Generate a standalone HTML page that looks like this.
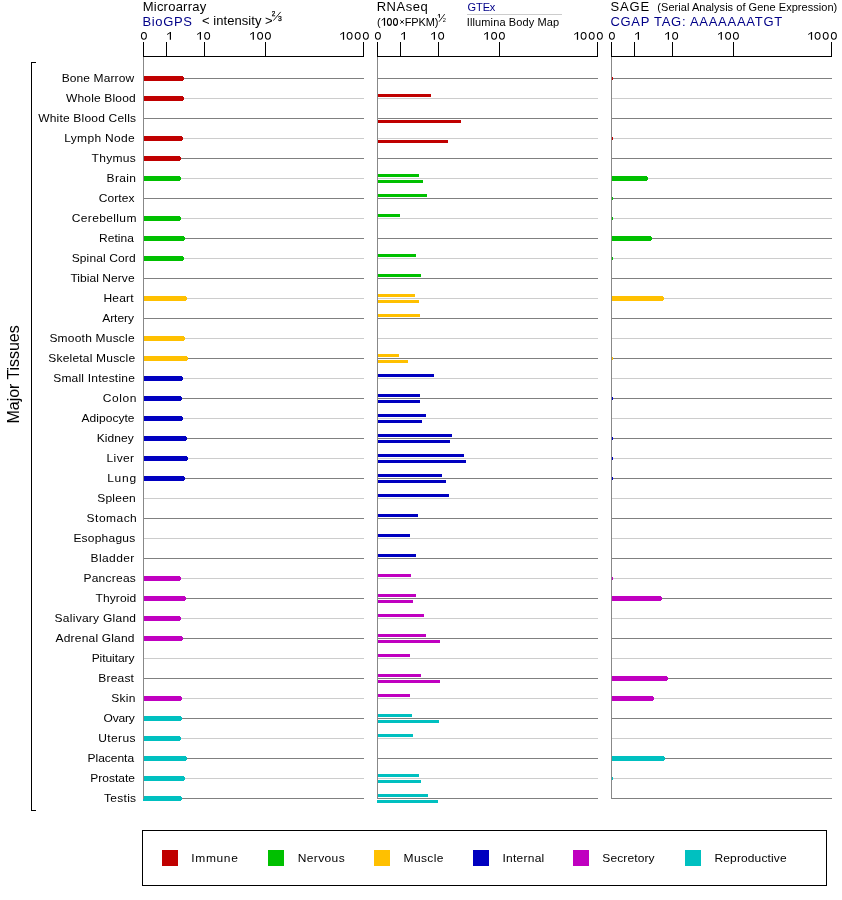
<!DOCTYPE html><html><head><meta charset="utf-8"><style>html,body{margin:0;padding:0;background:#fff;width:842px;height:900px;overflow:hidden}svg{display:block;will-change:transform}text{font-family:"Liberation Sans",sans-serif}</style></head><body><svg width="842" height="900" viewBox="0 0 842 900"><rect width="842" height="900" fill="#fff"/><rect x="143" y="78" width="221" height="1" fill="#808080"/><rect x="143" y="98" width="221" height="1" fill="#cccccc"/><rect x="143" y="118" width="221" height="1" fill="#808080"/><rect x="143" y="138" width="221" height="1" fill="#cccccc"/><rect x="143" y="158" width="221" height="1" fill="#808080"/><rect x="143" y="178" width="221" height="1" fill="#cccccc"/><rect x="143" y="198" width="221" height="1" fill="#808080"/><rect x="143" y="218" width="221" height="1" fill="#cccccc"/><rect x="143" y="238" width="221" height="1" fill="#808080"/><rect x="143" y="258" width="221" height="1" fill="#cccccc"/><rect x="143" y="278" width="221" height="1" fill="#808080"/><rect x="143" y="298" width="221" height="1" fill="#cccccc"/><rect x="143" y="318" width="221" height="1" fill="#808080"/><rect x="143" y="338" width="221" height="1" fill="#cccccc"/><rect x="143" y="358" width="221" height="1" fill="#808080"/><rect x="143" y="378" width="221" height="1" fill="#cccccc"/><rect x="143" y="398" width="221" height="1" fill="#808080"/><rect x="143" y="418" width="221" height="1" fill="#cccccc"/><rect x="143" y="438" width="221" height="1" fill="#808080"/><rect x="143" y="458" width="221" height="1" fill="#cccccc"/><rect x="143" y="478" width="221" height="1" fill="#808080"/><rect x="143" y="498" width="221" height="1" fill="#cccccc"/><rect x="143" y="518" width="221" height="1" fill="#808080"/><rect x="143" y="538" width="221" height="1" fill="#cccccc"/><rect x="143" y="558" width="221" height="1" fill="#808080"/><rect x="143" y="578" width="221" height="1" fill="#cccccc"/><rect x="143" y="598" width="221" height="1" fill="#808080"/><rect x="143" y="618" width="221" height="1" fill="#cccccc"/><rect x="143" y="638" width="221" height="1" fill="#808080"/><rect x="143" y="658" width="221" height="1" fill="#cccccc"/><rect x="143" y="678" width="221" height="1" fill="#808080"/><rect x="143" y="698" width="221" height="1" fill="#cccccc"/><rect x="143" y="718" width="221" height="1" fill="#808080"/><rect x="143" y="738" width="221" height="1" fill="#cccccc"/><rect x="143" y="758" width="221" height="1" fill="#808080"/><rect x="143" y="778" width="221" height="1" fill="#cccccc"/><rect x="143" y="798" width="221" height="1" fill="#808080"/><rect x="377" y="78" width="221" height="1" fill="#808080"/><rect x="377" y="98" width="221" height="1" fill="#cccccc"/><rect x="377" y="118" width="221" height="1" fill="#808080"/><rect x="377" y="138" width="221" height="1" fill="#cccccc"/><rect x="377" y="158" width="221" height="1" fill="#808080"/><rect x="377" y="178" width="221" height="1" fill="#cccccc"/><rect x="377" y="198" width="221" height="1" fill="#808080"/><rect x="377" y="218" width="221" height="1" fill="#cccccc"/><rect x="377" y="238" width="221" height="1" fill="#808080"/><rect x="377" y="258" width="221" height="1" fill="#cccccc"/><rect x="377" y="278" width="221" height="1" fill="#808080"/><rect x="377" y="298" width="221" height="1" fill="#cccccc"/><rect x="377" y="318" width="221" height="1" fill="#808080"/><rect x="377" y="338" width="221" height="1" fill="#cccccc"/><rect x="377" y="358" width="221" height="1" fill="#808080"/><rect x="377" y="378" width="221" height="1" fill="#cccccc"/><rect x="377" y="398" width="221" height="1" fill="#808080"/><rect x="377" y="418" width="221" height="1" fill="#cccccc"/><rect x="377" y="438" width="221" height="1" fill="#808080"/><rect x="377" y="458" width="221" height="1" fill="#cccccc"/><rect x="377" y="478" width="221" height="1" fill="#808080"/><rect x="377" y="498" width="221" height="1" fill="#cccccc"/><rect x="377" y="518" width="221" height="1" fill="#808080"/><rect x="377" y="538" width="221" height="1" fill="#cccccc"/><rect x="377" y="558" width="221" height="1" fill="#808080"/><rect x="377" y="578" width="221" height="1" fill="#cccccc"/><rect x="377" y="598" width="221" height="1" fill="#808080"/><rect x="377" y="618" width="221" height="1" fill="#cccccc"/><rect x="377" y="638" width="221" height="1" fill="#808080"/><rect x="377" y="658" width="221" height="1" fill="#cccccc"/><rect x="377" y="678" width="221" height="1" fill="#808080"/><rect x="377" y="698" width="221" height="1" fill="#cccccc"/><rect x="377" y="718" width="221" height="1" fill="#808080"/><rect x="377" y="738" width="221" height="1" fill="#cccccc"/><rect x="377" y="758" width="221" height="1" fill="#808080"/><rect x="377" y="778" width="221" height="1" fill="#cccccc"/><rect x="377" y="798" width="221" height="1" fill="#808080"/><rect x="611" y="78" width="221" height="1" fill="#808080"/><rect x="611" y="98" width="221" height="1" fill="#cccccc"/><rect x="611" y="118" width="221" height="1" fill="#808080"/><rect x="611" y="138" width="221" height="1" fill="#cccccc"/><rect x="611" y="158" width="221" height="1" fill="#808080"/><rect x="611" y="178" width="221" height="1" fill="#cccccc"/><rect x="611" y="198" width="221" height="1" fill="#808080"/><rect x="611" y="218" width="221" height="1" fill="#cccccc"/><rect x="611" y="238" width="221" height="1" fill="#808080"/><rect x="611" y="258" width="221" height="1" fill="#cccccc"/><rect x="611" y="278" width="221" height="1" fill="#808080"/><rect x="611" y="298" width="221" height="1" fill="#cccccc"/><rect x="611" y="318" width="221" height="1" fill="#808080"/><rect x="611" y="338" width="221" height="1" fill="#cccccc"/><rect x="611" y="358" width="221" height="1" fill="#808080"/><rect x="611" y="378" width="221" height="1" fill="#cccccc"/><rect x="611" y="398" width="221" height="1" fill="#808080"/><rect x="611" y="418" width="221" height="1" fill="#cccccc"/><rect x="611" y="438" width="221" height="1" fill="#808080"/><rect x="611" y="458" width="221" height="1" fill="#cccccc"/><rect x="611" y="478" width="221" height="1" fill="#808080"/><rect x="611" y="498" width="221" height="1" fill="#cccccc"/><rect x="611" y="518" width="221" height="1" fill="#808080"/><rect x="611" y="538" width="221" height="1" fill="#cccccc"/><rect x="611" y="558" width="221" height="1" fill="#808080"/><rect x="611" y="578" width="221" height="1" fill="#cccccc"/><rect x="611" y="598" width="221" height="1" fill="#808080"/><rect x="611" y="618" width="221" height="1" fill="#cccccc"/><rect x="611" y="638" width="221" height="1" fill="#808080"/><rect x="611" y="658" width="221" height="1" fill="#cccccc"/><rect x="611" y="678" width="221" height="1" fill="#808080"/><rect x="611" y="698" width="221" height="1" fill="#cccccc"/><rect x="611" y="718" width="221" height="1" fill="#808080"/><rect x="611" y="738" width="221" height="1" fill="#cccccc"/><rect x="611" y="758" width="221" height="1" fill="#808080"/><rect x="611" y="778" width="221" height="1" fill="#cccccc"/><rect x="611" y="798" width="221" height="1" fill="#808080"/><rect x="143" y="76" width="40" height="5" fill="#c00000"/><rect x="183" y="77" width="1" height="3" fill="#c00000"/><rect x="143" y="96" width="40" height="5" fill="#c00000"/><rect x="183" y="97" width="1" height="3" fill="#c00000"/><rect x="143" y="136" width="39" height="5" fill="#c00000"/><rect x="182" y="137" width="1" height="3" fill="#c00000"/><rect x="143" y="156" width="37" height="5" fill="#c00000"/><rect x="180" y="157" width="1" height="3" fill="#c00000"/><rect x="143" y="176" width="37" height="5" fill="#00c000"/><rect x="180" y="177" width="1" height="3" fill="#00c000"/><rect x="143" y="216" width="37" height="5" fill="#00c000"/><rect x="180" y="217" width="1" height="3" fill="#00c000"/><rect x="143" y="236" width="41" height="5" fill="#00c000"/><rect x="184" y="237" width="1" height="3" fill="#00c000"/><rect x="143" y="256" width="40" height="5" fill="#00c000"/><rect x="183" y="257" width="1" height="3" fill="#00c000"/><rect x="143" y="296" width="43" height="5" fill="#ffc000"/><rect x="186" y="297" width="1" height="3" fill="#ffc000"/><rect x="143" y="336" width="41" height="5" fill="#ffc000"/><rect x="184" y="337" width="1" height="3" fill="#ffc000"/><rect x="143" y="356" width="44" height="5" fill="#ffc000"/><rect x="187" y="357" width="1" height="3" fill="#ffc000"/><rect x="143" y="376" width="39" height="5" fill="#0000c0"/><rect x="182" y="377" width="1" height="3" fill="#0000c0"/><rect x="143" y="396" width="38" height="5" fill="#0000c0"/><rect x="181" y="397" width="1" height="3" fill="#0000c0"/><rect x="143" y="416" width="39" height="5" fill="#0000c0"/><rect x="182" y="417" width="1" height="3" fill="#0000c0"/><rect x="143" y="436" width="43" height="5" fill="#0000c0"/><rect x="186" y="437" width="1" height="3" fill="#0000c0"/><rect x="143" y="456" width="44" height="5" fill="#0000c0"/><rect x="187" y="457" width="1" height="3" fill="#0000c0"/><rect x="143" y="476" width="41" height="5" fill="#0000c0"/><rect x="184" y="477" width="1" height="3" fill="#0000c0"/><rect x="143" y="576" width="37" height="5" fill="#c000c0"/><rect x="180" y="577" width="1" height="3" fill="#c000c0"/><rect x="143" y="596" width="42" height="5" fill="#c000c0"/><rect x="185" y="597" width="1" height="3" fill="#c000c0"/><rect x="143" y="616" width="37" height="5" fill="#c000c0"/><rect x="180" y="617" width="1" height="3" fill="#c000c0"/><rect x="143" y="636" width="39" height="5" fill="#c000c0"/><rect x="182" y="637" width="1" height="3" fill="#c000c0"/><rect x="143" y="696" width="38" height="5" fill="#c000c0"/><rect x="181" y="697" width="1" height="3" fill="#c000c0"/><rect x="143" y="716" width="38" height="5" fill="#00c0c0"/><rect x="181" y="717" width="1" height="3" fill="#00c0c0"/><rect x="143" y="736" width="37" height="5" fill="#00c0c0"/><rect x="180" y="737" width="1" height="3" fill="#00c0c0"/><rect x="143" y="756" width="43" height="5" fill="#00c0c0"/><rect x="186" y="757" width="1" height="3" fill="#00c0c0"/><rect x="143" y="776" width="41" height="5" fill="#00c0c0"/><rect x="184" y="777" width="1" height="3" fill="#00c0c0"/><rect x="143" y="796" width="38" height="5" fill="#00c0c0"/><rect x="181" y="797" width="1" height="3" fill="#00c0c0"/><rect x="611" y="76" width="1" height="5" fill="#c00000"/><rect x="612" y="77" width="1" height="3" fill="#c00000"/><rect x="611" y="136" width="1" height="5" fill="#c00000"/><rect x="612" y="137" width="1" height="3" fill="#c00000"/><rect x="611" y="176" width="36" height="5" fill="#00c000"/><rect x="647" y="177" width="1" height="3" fill="#00c000"/><rect x="611" y="196" width="1" height="5" fill="#00c000"/><rect x="612" y="197" width="1" height="3" fill="#00c000"/><rect x="611" y="216" width="1" height="5" fill="#00c000"/><rect x="612" y="217" width="1" height="3" fill="#00c000"/><rect x="611" y="236" width="40" height="5" fill="#00c000"/><rect x="651" y="237" width="1" height="3" fill="#00c000"/><rect x="611" y="256" width="1" height="5" fill="#00c000"/><rect x="612" y="257" width="1" height="3" fill="#00c000"/><rect x="611" y="296" width="52" height="5" fill="#ffc000"/><rect x="663" y="297" width="1" height="3" fill="#ffc000"/><rect x="611" y="356" width="1" height="5" fill="#ffc000"/><rect x="612" y="357" width="1" height="3" fill="#ffc000"/><rect x="611" y="396" width="1" height="5" fill="#0000c0"/><rect x="612" y="397" width="1" height="3" fill="#0000c0"/><rect x="611" y="436" width="1" height="5" fill="#0000c0"/><rect x="612" y="437" width="1" height="3" fill="#0000c0"/><rect x="611" y="456" width="1" height="5" fill="#0000c0"/><rect x="612" y="457" width="1" height="3" fill="#0000c0"/><rect x="611" y="476" width="1" height="5" fill="#0000c0"/><rect x="612" y="477" width="1" height="3" fill="#0000c0"/><rect x="611" y="576" width="1" height="5" fill="#c000c0"/><rect x="612" y="577" width="1" height="3" fill="#c000c0"/><rect x="611" y="596" width="50" height="5" fill="#c000c0"/><rect x="661" y="597" width="1" height="3" fill="#c000c0"/><rect x="611" y="676" width="56" height="5" fill="#c000c0"/><rect x="667" y="677" width="1" height="3" fill="#c000c0"/><rect x="611" y="696" width="42" height="5" fill="#c000c0"/><rect x="653" y="697" width="1" height="3" fill="#c000c0"/><rect x="611" y="756" width="53" height="5" fill="#00c0c0"/><rect x="664" y="757" width="1" height="3" fill="#00c0c0"/><rect x="611" y="776" width="1" height="5" fill="#00c0c0"/><rect x="612" y="777" width="1" height="3" fill="#00c0c0"/><rect x="377" y="94" width="54" height="3" fill="#c00000"/><rect x="377" y="120" width="84" height="3" fill="#c00000"/><rect x="377" y="140" width="71" height="3" fill="#c00000"/><rect x="377" y="174" width="42" height="3" fill="#00c000"/><rect x="377" y="180" width="46" height="3" fill="#00c000"/><rect x="377" y="194" width="50" height="3" fill="#00c000"/><rect x="377" y="214" width="23" height="3" fill="#00c000"/><rect x="377" y="254" width="39" height="3" fill="#00c000"/><rect x="377" y="274" width="44" height="3" fill="#00c000"/><rect x="377" y="294" width="38" height="3" fill="#ffc000"/><rect x="377" y="300" width="42" height="3" fill="#ffc000"/><rect x="377" y="314" width="43" height="3" fill="#ffc000"/><rect x="377" y="354" width="22" height="3" fill="#ffc000"/><rect x="377" y="360" width="31" height="3" fill="#ffc000"/><rect x="377" y="374" width="57" height="3" fill="#0000c0"/><rect x="377" y="394" width="43" height="3" fill="#0000c0"/><rect x="377" y="400" width="43" height="3" fill="#0000c0"/><rect x="377" y="414" width="49" height="3" fill="#0000c0"/><rect x="377" y="420" width="45" height="3" fill="#0000c0"/><rect x="377" y="434" width="75" height="3" fill="#0000c0"/><rect x="377" y="440" width="73" height="3" fill="#0000c0"/><rect x="377" y="454" width="87" height="3" fill="#0000c0"/><rect x="377" y="460" width="89" height="3" fill="#0000c0"/><rect x="377" y="474" width="65" height="3" fill="#0000c0"/><rect x="377" y="480" width="69" height="3" fill="#0000c0"/><rect x="377" y="494" width="72" height="3" fill="#0000c0"/><rect x="377" y="514" width="41" height="3" fill="#0000c0"/><rect x="377" y="534" width="33" height="3" fill="#0000c0"/><rect x="377" y="554" width="39" height="3" fill="#0000c0"/><rect x="377" y="574" width="34" height="3" fill="#c000c0"/><rect x="377" y="594" width="39" height="3" fill="#c000c0"/><rect x="377" y="600" width="36" height="3" fill="#c000c0"/><rect x="377" y="614" width="47" height="3" fill="#c000c0"/><rect x="377" y="634" width="49" height="3" fill="#c000c0"/><rect x="377" y="640" width="63" height="3" fill="#c000c0"/><rect x="377" y="654" width="33" height="3" fill="#c000c0"/><rect x="377" y="674" width="44" height="3" fill="#c000c0"/><rect x="377" y="680" width="63" height="3" fill="#c000c0"/><rect x="377" y="694" width="33" height="3" fill="#c000c0"/><rect x="377" y="714" width="35" height="3" fill="#00c0c0"/><rect x="377" y="720" width="62" height="3" fill="#00c0c0"/><rect x="377" y="734" width="36" height="3" fill="#00c0c0"/><rect x="377" y="774" width="42" height="3" fill="#00c0c0"/><rect x="377" y="780" width="44" height="3" fill="#00c0c0"/><rect x="377" y="794" width="51" height="3" fill="#00c0c0"/><rect x="377" y="800" width="61" height="3" fill="#00c0c0"/><rect x="143" y="57" width="1" height="742" fill="#888888"/><rect x="143" y="56" width="221" height="1" fill="#000"/><rect x="143" y="42" width="1" height="14" fill="#000"/><rect x="166" y="42" width="1" height="14" fill="#000"/><rect x="204" y="42" width="1" height="14" fill="#000"/><rect x="265" y="42" width="1" height="14" fill="#000"/><rect x="363" y="42" width="1" height="14" fill="#000"/><rect x="377" y="57" width="1" height="742" fill="#888888"/><rect x="377" y="56" width="221" height="1" fill="#000"/><rect x="377" y="42" width="1" height="14" fill="#000"/><rect x="400" y="42" width="1" height="14" fill="#000"/><rect x="438" y="42" width="1" height="14" fill="#000"/><rect x="499" y="42" width="1" height="14" fill="#000"/><rect x="597" y="42" width="1" height="14" fill="#000"/><rect x="611" y="57" width="1" height="742" fill="#888888"/><rect x="611" y="56" width="221" height="1" fill="#000"/><rect x="611" y="42" width="1" height="14" fill="#000"/><rect x="634" y="42" width="1" height="14" fill="#000"/><rect x="672" y="42" width="1" height="14" fill="#000"/><rect x="733" y="42" width="1" height="14" fill="#000"/><rect x="831" y="42" width="1" height="14" fill="#000"/><text transform="matrix(1.0909,0,0,1,61.7,82)" x="0" y="0" font-size="11" textLength="66.39" lengthAdjust="spacing">Bone Marrow</text><text transform="matrix(1.0909,0,0,1,66.0,102)" x="0" y="0" font-size="11" textLength="63.94" lengthAdjust="spacing">Whole Blood</text><text transform="matrix(1.0909,0,0,1,38.2,122)" x="0" y="0" font-size="11" textLength="89.67" lengthAdjust="spacing">White Blood Cells</text><text transform="matrix(1.0909,0,0,1,64.3,142)" x="0" y="0" font-size="11" textLength="64.48" lengthAdjust="spacing">Lymph Node</text><text transform="matrix(1.0909,0,0,1,91.6,162)" x="0" y="0" font-size="11" textLength="40.42" lengthAdjust="spacing">Thymus</text><text transform="matrix(1.0909,0,0,1,106.6,182)" x="0" y="0" font-size="11" textLength="26.99" lengthAdjust="spacing">Brain</text><text transform="matrix(1.0909,0,0,1,98.8,202)" x="0" y="0" font-size="11" textLength="32.74" lengthAdjust="spacing">Cortex</text><text transform="matrix(1.0909,0,0,1,71.7,222)" x="0" y="0" font-size="11" textLength="59.3" lengthAdjust="spacing">Cerebellum</text><text transform="matrix(1.0909,0,0,1,99.0,242)" x="0" y="0" font-size="11" textLength="31.96" lengthAdjust="spacing">Retina</text><text transform="matrix(1.0909,0,0,1,71.7,262)" x="0" y="0" font-size="11" textLength="58.6" lengthAdjust="spacing">Spinal Cord</text><text transform="matrix(1.0909,0,0,1,70.4,282)" x="0" y="0" font-size="11" textLength="58.82" lengthAdjust="spacing">Tibial Nerve</text><text transform="matrix(1.0909,0,0,1,103.4,302)" x="0" y="0" font-size="11" textLength="27.78" lengthAdjust="spacing">Heart</text><text transform="matrix(1.0909,0,0,1,102.2,322)" x="0" y="0" font-size="11" textLength="29.16" lengthAdjust="spacing">Artery</text><text transform="matrix(1.0909,0,0,1,49.4,342)" x="0" y="0" font-size="11" textLength="78.14" lengthAdjust="spacing">Smooth Muscle</text><text transform="matrix(1.0909,0,0,1,48.3,362)" x="0" y="0" font-size="11" textLength="79.54" lengthAdjust="spacing">Skeletal Muscle</text><text transform="matrix(1.0909,0,0,1,53.2,382)" x="0" y="0" font-size="11" textLength="74.84" lengthAdjust="spacing">Small Intestine</text><text transform="matrix(1.0909,0,0,1,102.8,402)" x="0" y="0" font-size="11" textLength="30.79" lengthAdjust="spacing">Colon</text><text transform="matrix(1.0909,0,0,1,81.6,422)" x="0" y="0" font-size="11" textLength="48.46" lengthAdjust="spacing">Adipocyte</text><text transform="matrix(1.0909,0,0,1,96.8,442)" x="0" y="0" font-size="11" textLength="33.98" lengthAdjust="spacing">Kidney</text><text transform="matrix(1.0909,0,0,1,106.6,462)" x="0" y="0" font-size="11" textLength="25.15" lengthAdjust="spacing">Liver</text><text transform="matrix(1.0909,0,0,1,107.2,482)" x="0" y="0" font-size="11" textLength="26.48" lengthAdjust="spacing">Lung</text><text transform="matrix(1.0909,0,0,1,97.2,502)" x="0" y="0" font-size="11" textLength="35.33" lengthAdjust="spacing">Spleen</text><text transform="matrix(1.0909,0,0,1,86.6,522)" x="0" y="0" font-size="11" textLength="46.03" lengthAdjust="spacing">Stomach</text><text transform="matrix(1.0909,0,0,1,73.4,542)" x="0" y="0" font-size="11" textLength="56.65" lengthAdjust="spacing">Esophagus</text><text transform="matrix(1.0909,0,0,1,90.6,562)" x="0" y="0" font-size="11" textLength="40.1" lengthAdjust="spacing">Bladder</text><text transform="matrix(1.0909,0,0,1,83.4,582)" x="0" y="0" font-size="11" textLength="48.09" lengthAdjust="spacing">Pancreas</text><text transform="matrix(1.0909,0,0,1,95.6,602)" x="0" y="0" font-size="11" textLength="37.11" lengthAdjust="spacing">Thyroid</text><text transform="matrix(1.0909,0,0,1,54.6,622)" x="0" y="0" font-size="11" textLength="74.61" lengthAdjust="spacing">Salivary Gland</text><text transform="matrix(1.0909,0,0,1,55.6,642)" x="0" y="0" font-size="11" textLength="72.33" lengthAdjust="spacing">Adrenal Gland</text><text transform="matrix(1.0909,0,0,1,91.7,662)" x="0" y="0" font-size="11" textLength="39.24" lengthAdjust="spacing">Pituitary</text><text transform="matrix(1.0909,0,0,1,98.3,682)" x="0" y="0" font-size="11" textLength="32.69" lengthAdjust="spacing">Breast</text><text transform="matrix(1.0909,0,0,1,111.3,702)" x="0" y="0" font-size="11" textLength="22.12" lengthAdjust="spacing">Skin</text><text transform="matrix(1.0909,0,0,1,103.5,722)" x="0" y="0" font-size="11" textLength="28.72" lengthAdjust="spacing">Ovary</text><text transform="matrix(1.0909,0,0,1,98.3,742)" x="0" y="0" font-size="11" textLength="34.03" lengthAdjust="spacing">Uterus</text><text transform="matrix(1.0909,0,0,1,87.5,762)" x="0" y="0" font-size="11" textLength="42.74" lengthAdjust="spacing">Placenta</text><text transform="matrix(1.0909,0,0,1,90.3,782)" x="0" y="0" font-size="11" textLength="40.93" lengthAdjust="spacing">Prostate</text><text transform="matrix(1.0909,0,0,1,104.0,802)" x="0" y="0" font-size="11" textLength="29.42" lengthAdjust="spacing">Testis</text><text x="142.7" y="11" font-size="13" textLength="63.49" lengthAdjust="spacing">Microarray</text><text x="142.5" y="26" font-size="13" fill="#000088" color="#000088" textLength="49.38" lengthAdjust="spacing">BioGPS</text><text x="201.9" y="25" font-size="13" textLength="70.81" lengthAdjust="spacing">&lt; intensity &gt;</text><text x="376.7" y="11" font-size="13" textLength="50.98" lengthAdjust="spacing">RNAseq</text><text x="376.9" y="26" font-size="11" textLength="4.27" lengthAdjust="spacing">(</text><text x="404.7" y="26" font-size="11" textLength="33.74" lengthAdjust="spacing">FPKM)</text><text x="467.6" y="11" font-size="11" fill="#000088" color="#000088" textLength="27.76" lengthAdjust="spacing">GTEx</text><text x="466.8" y="26" font-size="11" textLength="92.31" lengthAdjust="spacing">Illumina Body Map</text><text x="610.4" y="11" font-size="13" textLength="38.69" lengthAdjust="spacing">SAGE</text><text x="657.3" y="11" font-size="11" textLength="179.98" lengthAdjust="spacing">(Serial Analysis of Gene Expression)</text><text x="610.4" y="26" font-size="13" fill="#000088" color="#000088" textLength="171.8" lengthAdjust="spacing">CGAP TAG: AAAAAAATGT</text><text transform="matrix(1.0909,0,0,1,191.3,862)" x="0" y="0" font-size="11" textLength="42.64" lengthAdjust="spacing">Immune</text><text transform="matrix(1.0909,0,0,1,297.8,862)" x="0" y="0" font-size="11" textLength="42.95" lengthAdjust="spacing">Nervous</text><text transform="matrix(1.0909,0,0,1,403.5,862)" x="0" y="0" font-size="11" textLength="36.65" lengthAdjust="spacing">Muscle</text><text transform="matrix(1.0909,0,0,1,502.5,862)" x="0" y="0" font-size="11" textLength="38.31" lengthAdjust="spacing">Internal</text><text transform="matrix(1.0909,0,0,1,602.3,862)" x="0" y="0" font-size="11" textLength="47.95" lengthAdjust="spacing">Secretory</text><text transform="matrix(1.0909,0,0,1,714.5,862)" x="0" y="0" font-size="11" textLength="66.08" lengthAdjust="spacing">Reproductive</text><ellipse cx="143.90" cy="35.85" rx="2.45" ry="3.42" fill="none" stroke="#000" stroke-width="1.08"/><path d="M169.80 32 H171.00 V39.8 H169.80 Z" fill="#000"/><path d="M170.20 32.6 L167.10 34.5" stroke="#000" stroke-width="0.95" fill="none"/><path d="M199.80 32 H201.00 V39.8 H199.80 Z" fill="#000"/><path d="M200.20 32.6 L197.10 34.5" stroke="#000" stroke-width="0.95" fill="none"/><ellipse cx="207.15" cy="35.85" rx="2.45" ry="3.42" fill="none" stroke="#000" stroke-width="1.08"/><path d="M252.70 32 H253.90 V39.8 H252.70 Z" fill="#000"/><path d="M253.10 32.6 L250.00 34.5" stroke="#000" stroke-width="0.95" fill="none"/><ellipse cx="260.10" cy="35.85" rx="2.45" ry="3.42" fill="none" stroke="#000" stroke-width="1.08"/><ellipse cx="267.90" cy="35.85" rx="2.45" ry="3.42" fill="none" stroke="#000" stroke-width="1.08"/><path d="M342.90 32 H344.10 V39.8 H342.90 Z" fill="#000"/><path d="M343.30 32.6 L340.20 34.5" stroke="#000" stroke-width="0.95" fill="none"/><ellipse cx="349.60" cy="35.85" rx="2.45" ry="3.42" fill="none" stroke="#000" stroke-width="1.08"/><ellipse cx="357.70" cy="35.85" rx="2.45" ry="3.42" fill="none" stroke="#000" stroke-width="1.08"/><ellipse cx="365.85" cy="35.85" rx="2.45" ry="3.42" fill="none" stroke="#000" stroke-width="1.08"/><ellipse cx="377.90" cy="35.85" rx="2.45" ry="3.42" fill="none" stroke="#000" stroke-width="1.08"/><path d="M403.80 32 H405.00 V39.8 H403.80 Z" fill="#000"/><path d="M404.20 32.6 L401.10 34.5" stroke="#000" stroke-width="0.95" fill="none"/><path d="M433.80 32 H435.00 V39.8 H433.80 Z" fill="#000"/><path d="M434.20 32.6 L431.10 34.5" stroke="#000" stroke-width="0.95" fill="none"/><ellipse cx="441.15" cy="35.85" rx="2.45" ry="3.42" fill="none" stroke="#000" stroke-width="1.08"/><path d="M486.70 32 H487.90 V39.8 H486.70 Z" fill="#000"/><path d="M487.10 32.6 L484.00 34.5" stroke="#000" stroke-width="0.95" fill="none"/><ellipse cx="494.10" cy="35.85" rx="2.45" ry="3.42" fill="none" stroke="#000" stroke-width="1.08"/><ellipse cx="501.90" cy="35.85" rx="2.45" ry="3.42" fill="none" stroke="#000" stroke-width="1.08"/><path d="M576.90 32 H578.10 V39.8 H576.90 Z" fill="#000"/><path d="M577.30 32.6 L574.20 34.5" stroke="#000" stroke-width="0.95" fill="none"/><ellipse cx="583.60" cy="35.85" rx="2.45" ry="3.42" fill="none" stroke="#000" stroke-width="1.08"/><ellipse cx="591.70" cy="35.85" rx="2.45" ry="3.42" fill="none" stroke="#000" stroke-width="1.08"/><ellipse cx="599.85" cy="35.85" rx="2.45" ry="3.42" fill="none" stroke="#000" stroke-width="1.08"/><ellipse cx="611.90" cy="35.85" rx="2.45" ry="3.42" fill="none" stroke="#000" stroke-width="1.08"/><path d="M637.80 32 H639.00 V39.8 H637.80 Z" fill="#000"/><path d="M638.20 32.6 L635.10 34.5" stroke="#000" stroke-width="0.95" fill="none"/><path d="M667.80 32 H669.00 V39.8 H667.80 Z" fill="#000"/><path d="M668.20 32.6 L665.10 34.5" stroke="#000" stroke-width="0.95" fill="none"/><ellipse cx="675.15" cy="35.85" rx="2.45" ry="3.42" fill="none" stroke="#000" stroke-width="1.08"/><path d="M720.70 32 H721.90 V39.8 H720.70 Z" fill="#000"/><path d="M721.10 32.6 L718.00 34.5" stroke="#000" stroke-width="0.95" fill="none"/><ellipse cx="728.10" cy="35.85" rx="2.45" ry="3.42" fill="none" stroke="#000" stroke-width="1.08"/><ellipse cx="735.90" cy="35.85" rx="2.45" ry="3.42" fill="none" stroke="#000" stroke-width="1.08"/><path d="M810.90 32 H812.10 V39.8 H810.90 Z" fill="#000"/><path d="M811.30 32.6 L808.20 34.5" stroke="#000" stroke-width="0.95" fill="none"/><ellipse cx="817.60" cy="35.85" rx="2.45" ry="3.42" fill="none" stroke="#000" stroke-width="1.08"/><ellipse cx="825.70" cy="35.85" rx="2.45" ry="3.42" fill="none" stroke="#000" stroke-width="1.08"/><ellipse cx="833.85" cy="35.85" rx="2.45" ry="3.42" fill="none" stroke="#000" stroke-width="1.08"/><rect x="467" y="14" width="95" height="1" fill="#cccccc"/><ellipse cx="389.4" cy="21.9" rx="2.0" ry="3.45" fill="none" stroke="#000" stroke-width="1.08"/><ellipse cx="395.5" cy="21.9" rx="2.0" ry="3.45" fill="none" stroke="#000" stroke-width="1.08"/><path d="M383.9 17.9 h1.2 v7.95 h-1.2 z" fill="#000"/><path d="M384.1 18.4 L381.6 20.4" stroke="#000" stroke-width="0.95" fill="none"/><path d="M400.3 20.2 L403.8 23.6 M403.8 20.2 L400.3 23.6" stroke="#000" stroke-width="0.95" fill="none"/><text x="271.75" y="16.0" font-size="6.4" style="stroke:#000;stroke-width:0.25px">2</text><text x="277.9" y="21.0" font-size="6.8" style="stroke:#000;stroke-width:0.25px">3</text><path d="M273.4 20.6 L280.7 11.9" stroke="#000" stroke-width="0.85" fill="none"/><path d="M438.95 13.9 h0.9 v3.8 h-0.9 z" fill="#000"/><path d="M439.1 14.3 L437.8 15.3" stroke="#000" stroke-width="0.8" fill="none"/><path d="M439.0 21.8 L444.7 14.1" stroke="#000" stroke-width="0.85" fill="none"/><text x="442.8" y="22.1" font-size="5.7">2</text><rect x="31" y="62" width="1" height="749" fill="#000"/><rect x="31" y="62" width="5" height="1" fill="#000"/><rect x="31" y="810" width="5" height="1" fill="#000"/><text transform="translate(18.5,374.4) rotate(-90)" font-size="16" text-anchor="middle" textLength="98.1" lengthAdjust="spacing">Major Tissues</text><rect x="142.5" y="830.5" width="684" height="55" fill="none" stroke="#000" stroke-width="1"/><rect x="162" y="850" width="16" height="16" fill="#c00000"/><rect x="268" y="850" width="16" height="16" fill="#00c000"/><rect x="374" y="850" width="16" height="16" fill="#ffc000"/><rect x="473" y="850" width="16" height="16" fill="#0000c0"/><rect x="573" y="850" width="16" height="16" fill="#c000c0"/><rect x="685" y="850" width="16" height="16" fill="#00c0c0"/></svg></body></html>
